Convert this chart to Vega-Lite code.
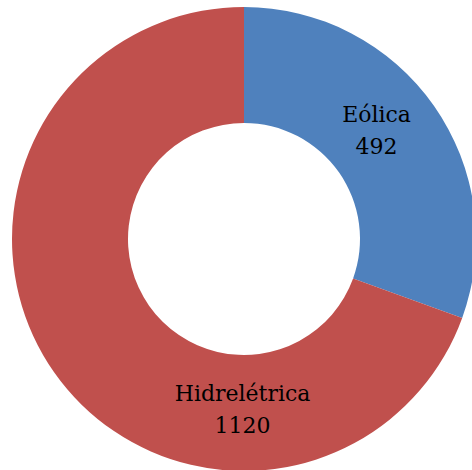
{
  "$schema": "https://vega.github.io/schema/vega-lite/v6.json",
  "width": 456,
  "height": 462,
  "autosize": {"type": "none"},
  "padding": {"left": 16, "top": 8, "right": 0, "bottom": 0},
  "background": "white",
  "view": {"stroke": null},
  "data": {"values": [
    {"category": "Eólica", "value": 492},
    {"category": "Hidrelétrica", "value": 1120}
  ]},
  "layer": [
    {
      "mark": {"type": "arc", "innerRadius": 116, "outerRadius": 232, "stroke": null},
      "encoding": {
        "theta": {"field": "value", "type": "quantitative", "stack": true},
        "order": {"field": "category", "type": "nominal", "sort": "ascending"},
        "color": {"field": "category", "type": "nominal", "legend": null,
          "scale": {"domain": ["Eólica", "Hidrelétrica"], "range": ["#4F81BD", "#C0504D"]}}
      }
    },
    {
      "transform": [{"filter": "datum.category == 'Eólica'"}],
      "layer": [
        {
          "mark": {"type": "text", "x": {"expr": "width/2"}, "y": {"expr": "height/2"}, "theta": 0.887, "radius": 171, "dy": -16, "font": "DejaVu Serif", "fontSize": 22, "color": "black", "align": "center", "baseline": "middle"},
          "encoding": {"text": {"field": "category", "type": "nominal"}}
        },
        {
          "mark": {"type": "text", "x": {"expr": "width/2"}, "y": {"expr": "height/2"}, "theta": 0.887, "radius": 171, "dy": 16, "font": "DejaVu Serif", "fontSize": 22, "color": "black", "align": "center", "baseline": "middle"},
          "encoding": {"text": {"field": "value", "type": "quantitative", "format": "d"}}
        }
      ]
    },
    {
      "transform": [{"filter": "datum.category == 'Hidrelétrica'"}],
      "layer": [
        {
          "mark": {"type": "text", "x": {"expr": "width/2"}, "y": {"expr": "height/2"}, "theta": 3.150, "radius": 171, "dy": -16, "font": "DejaVu Serif", "fontSize": 22, "color": "black", "align": "center", "baseline": "middle"},
          "encoding": {"text": {"field": "category", "type": "nominal"}}
        },
        {
          "mark": {"type": "text", "x": {"expr": "width/2"}, "y": {"expr": "height/2"}, "theta": 3.150, "radius": 171, "dy": 16, "font": "DejaVu Serif", "fontSize": 22, "color": "black", "align": "center", "baseline": "middle"},
          "encoding": {"text": {"field": "value", "type": "quantitative", "format": "d"}}
        }
      ]
    }
  ]
}
